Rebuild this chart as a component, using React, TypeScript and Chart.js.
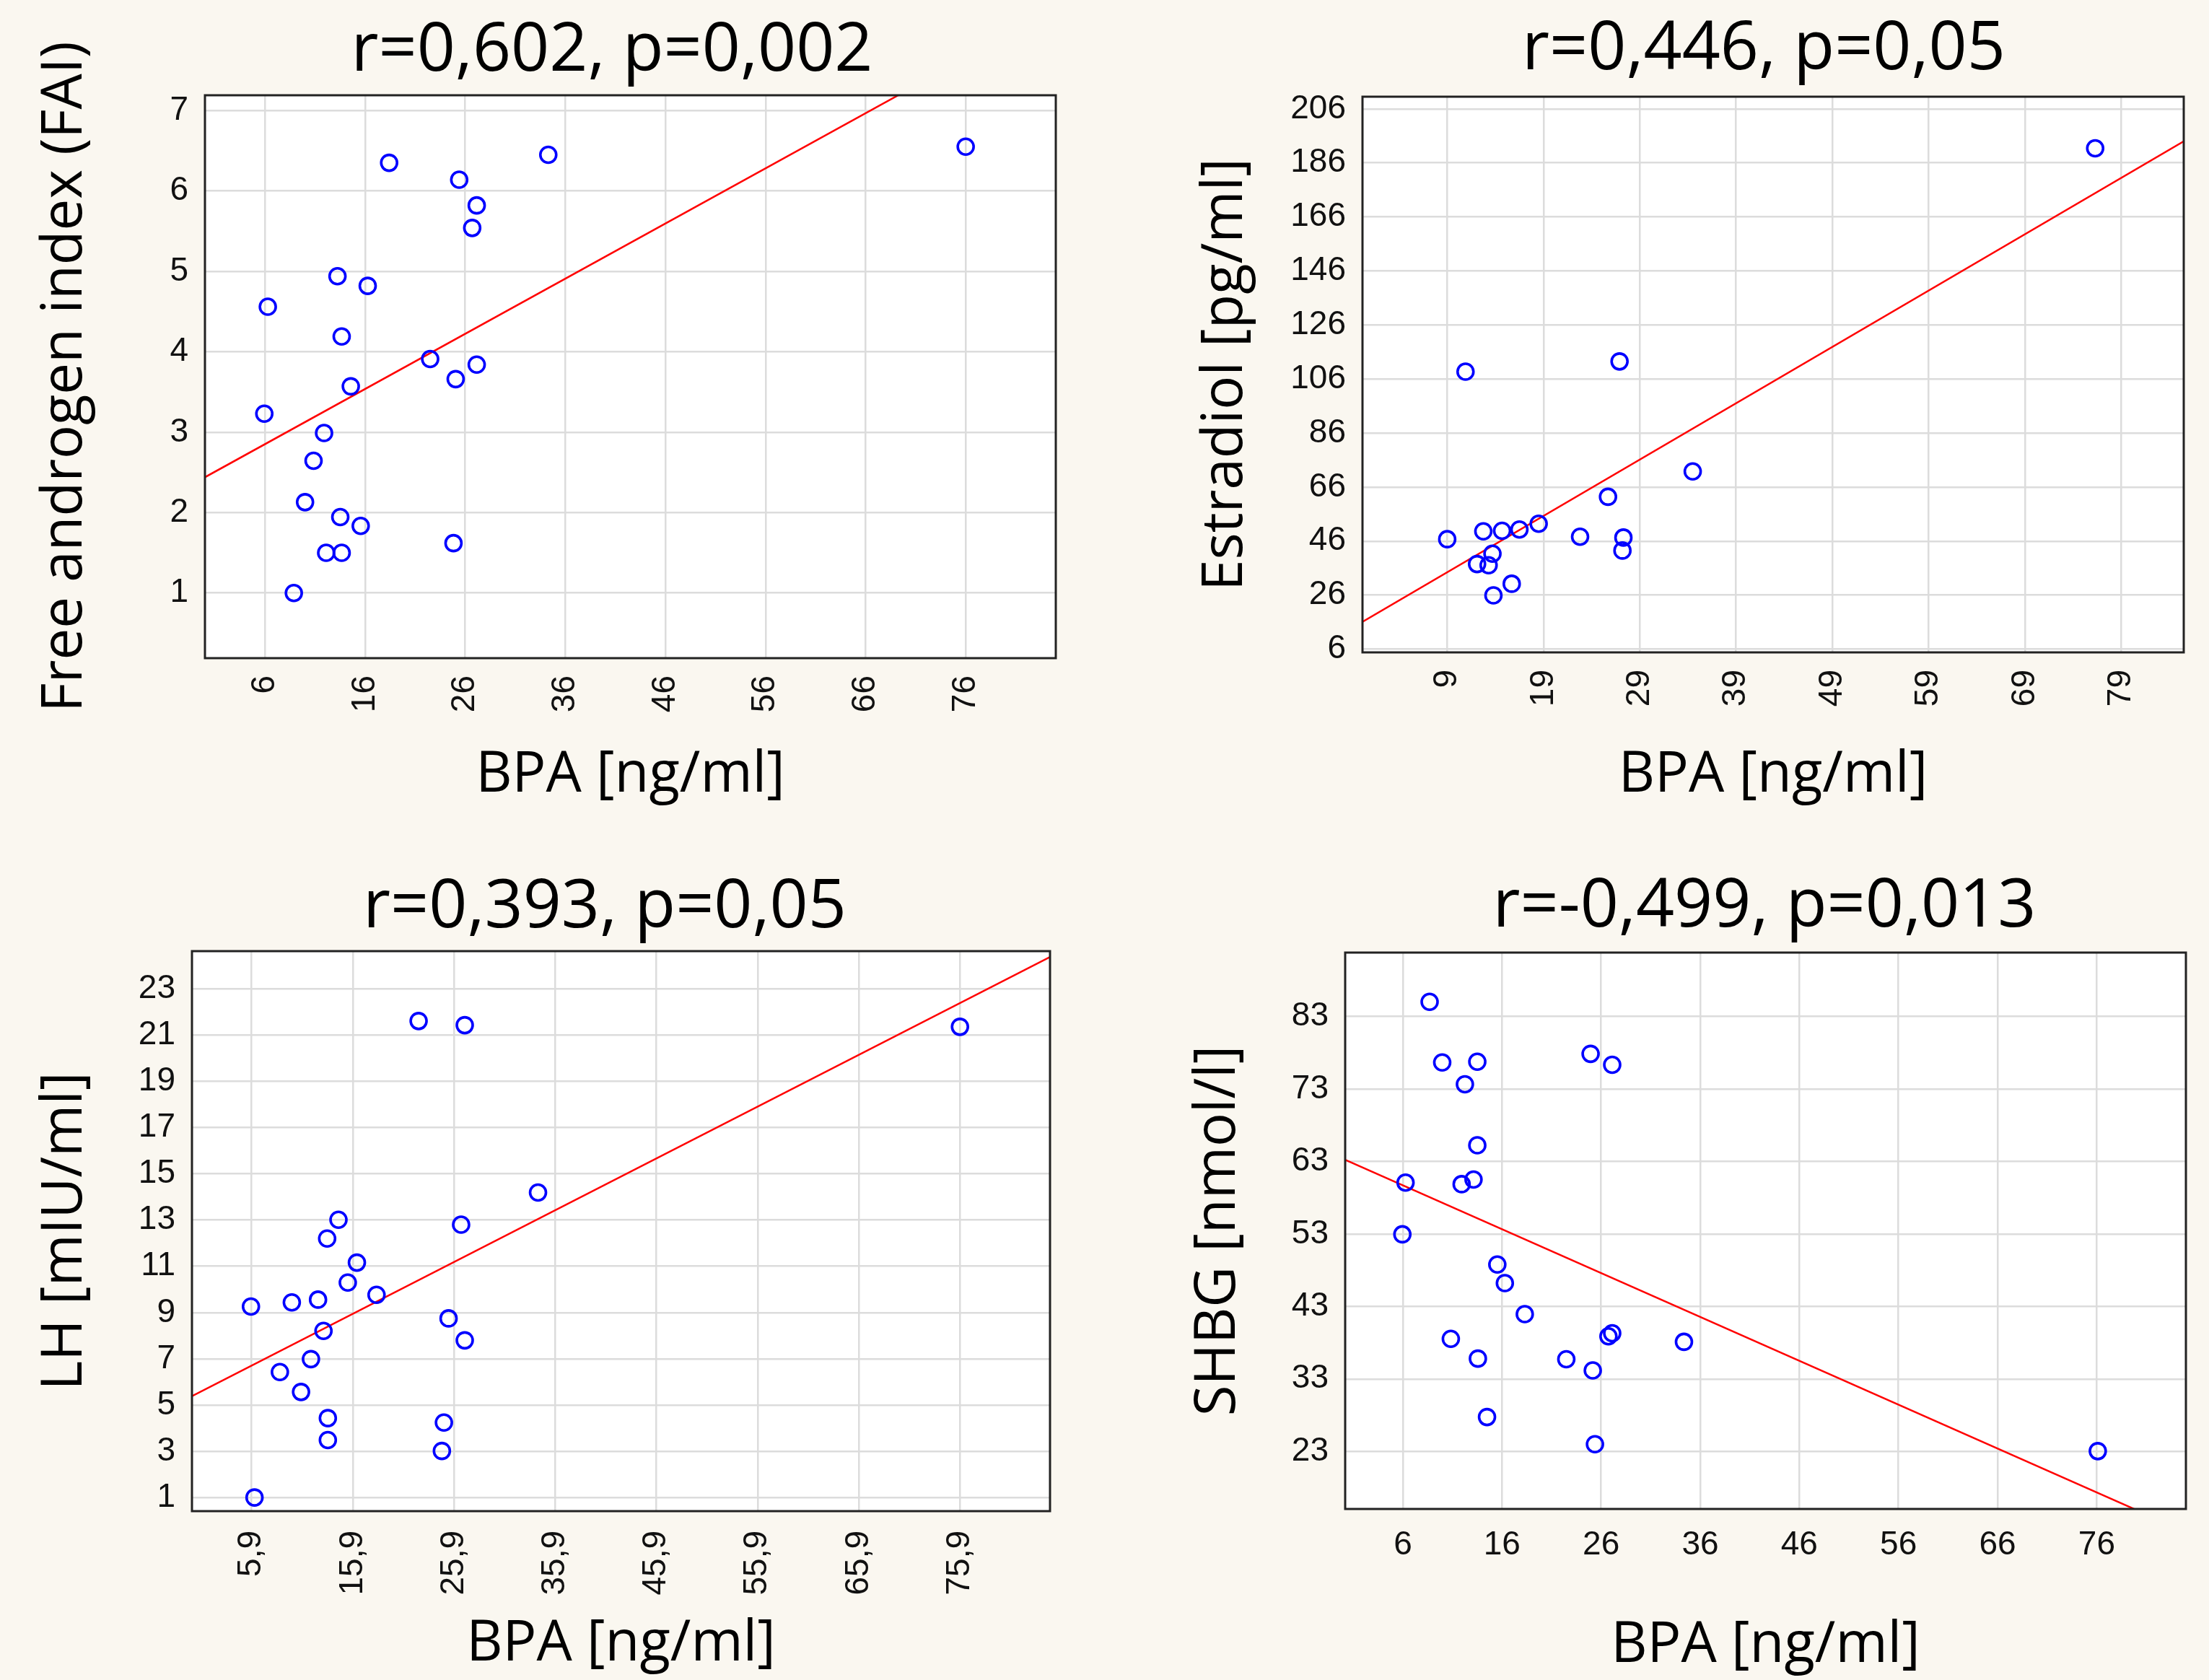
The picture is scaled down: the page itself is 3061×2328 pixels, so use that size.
import React, { useEffect, useRef } from 'react';
import { Chart, registerables } from 'chart.js';

Chart.register(...registerables);

// ---------------- data ----------------
// Panel 1: Free androgen index vs BPA
const bpa1 = [18.4, 34.3, 76.0, 25.4, 27.15, 26.7, 13.24, 16.26, 6.28, 13.66, 22.5, 27.15, 25.05, 14.57, 5.93, 11.9, 10.85, 10.0, 13.52, 15.56, 24.83, 12.11, 13.66, 8.88];
const fai = [6.35, 6.45, 6.55, 6.14, 5.82, 5.54, 4.94, 4.82, 4.56, 4.19, 3.91, 3.84, 3.66, 3.57, 3.23, 2.99, 2.645, 2.13, 1.945, 1.835, 1.62, 1.5, 1.5, 1.0];
const fitX1 = [0, 85];
const fitY1 = [2.44, 8.27];
const xTicks1 = [6, 16, 26, 36, 46, 56, 66, 76];
const yTicks1 = [1, 2, 3, 4, 5, 6, 7];

// Panel 2: Estradiol vs BPA
const bpa2 = [76.3, 10.9, 26.9, 34.5, 25.7, 18.5, 16.5, 14.7, 12.75, 9.0, 22.8, 27.3, 27.2, 13.7, 12.1, 13.3, 15.7, 13.8];
const estradiol = [191.4, 108.7, 112.5, 71.8, 62.4, 52.4, 50.3, 49.8, 49.6, 46.7, 47.6, 47.3, 42.5, 41.35, 37.5, 37.05, 30.2, 25.9];
const fitX2 = [0.2, 85.5];
const fitY2 = [16.1, 194.0];
const xTicks2 = [9, 19, 29, 39, 49, 59, 69, 79];
const yTicks2 = [6, 26, 46, 66, 86, 106, 126, 146, 166, 186, 206];

// Panel 3: LH vs BPA
const bpa3 = [22.4, 26.96, 75.9, 34.2, 14.48, 26.6, 13.36, 16.3, 15.4, 18.24, 12.46, 9.87, 5.83, 25.36, 13.0, 26.96, 11.76, 8.69, 10.78, 13.43, 24.9, 13.43, 24.7, 6.18];
const lh = [21.6, 21.42, 21.35, 14.19, 13.01, 12.8, 12.2, 11.16, 10.3, 9.77, 9.56, 9.44, 9.26, 8.75, 8.21, 7.8, 6.99, 6.43, 5.57, 4.44, 4.25, 3.49, 3.02, 1.01];
const fitX3 = [0, 84.8];
const fitY3 = [5.39, 24.37];
const xTicks3 = [5.9, 15.9, 25.9, 35.9, 45.9, 55.9, 65.9, 75.9];
const yTicks3 = [1, 3, 5, 7, 9, 11, 13, 15, 17, 19, 21, 23];

// Panel 4: SHBG vs BPA
const bpa4 = [8.7, 9.97, 13.51, 24.94, 27.12, 12.26, 13.51, 6.27, 11.93, 13.13, 5.95, 15.53, 16.29, 18.3, 10.84, 26.74, 27.12, 34.36, 13.57, 22.49, 25.16, 14.49, 25.38, 76.11];
const shbg = [85.0, 76.65, 76.74, 77.83, 76.32, 73.63, 65.23, 60.07, 59.86, 60.49, 52.94, 48.78, 46.22, 41.93, 38.53, 38.87, 39.29, 38.11, 35.8, 35.72, 34.17, 27.74, 24.0, 23.04];
const fitX4 = [0.18, 85];
const fitY4 = [63.21, 11.9];
const xTicks4 = [6, 16, 26, 36, 46, 56, 66, 76];
const yTicks4 = [23, 33, 43, 53, 63, 73, 83];

// ---------------- styling / layout ----------------
const BG = '#faf7f0';
const TITLE_FONT = 'Open Sans';
const TICK_FONT = 'Liberation Sans, Arial, sans-serif';

type Panel = {
  title: string;
  yLabel: string;
  xs: number[];
  ys: number[];
  fitX: number[];
  fitY: number[];
  xTicks: number[];
  yTicks: number[];
  xMin: number; xMax: number; yMin: number; yMax: number;
  rotateX: boolean;
  left: number; top: number; width: number; height: number;
  yAxisW: number; xAxisH: number; padW: number;
  titlePadTop: number; titlePadBottom: number;
  yTitlePad: number; xTitlePad: number; xTickPad: number;
};

const panels: Panel[] = [
  {
    title: 'r=0,602, p=0,002', yLabel: 'Free androgen index (FAI)',
    xs: bpa1, ys: fai, fitX: fitX1, fitY: fitY1, xTicks: xTicks1, yTicks: yTicks1,
    xMin: 0, xMax: 85, yMin: 0.19, yMax: 7.19, rotateX: true,
    left: 0, top: 0, width: 1696, height: 1160,
    yAxisW: 284, xAxisH: 248, padW: 233,
    titlePadTop: 16, titlePadBottom: 4.4, yTitlePad: 44, xTitlePad: 38, xTickPad: 24,
  },
  {
    title: 'r=0,446, p=0,05', yLabel: 'Estradiol [pg/ml]',
    xs: bpa2, ys: estradiol, fitX: fitX2, fitY: fitY2, xTicks: xTicks2, yTicks: yTicks2,
    xMin: 0.2, xMax: 85.5, yMin: 4.8, yMax: 210.5, rotateX: true,
    left: 1600, top: 0, width: 1688, height: 1160,
    yAxisW: 288, xAxisH: 256, padW: 262,
    titlePadTop: 14, titlePadBottom: 8.4, yTitlePad: 52, xTitlePad: 38, xTickPad: 24,
  },
  {
    title: 'r=0,393, p=0,05', yLabel: 'LH [mIU/ml]',
    xs: bpa3, ys: lh, fitX: fitX3, fitY: fitY3, xTicks: xTicks3, yTicks: yTicks3,
    xMin: 0, xMax: 84.8, yMin: 0.42, yMax: 24.62, rotateX: true,
    left: 0, top: 1160, width: 1676, height: 1168,
    yAxisW: 266, xAxisH: 234, padW: 221,
    titlePadTop: 42.7, titlePadBottom: 3.7, yTitlePad: 44, xTitlePad: 2, xTickPad: 27,
  },
  {
    title: 'r=-0,499, p=0,013', yLabel: 'SHBG [nmol/l]',
    xs: bpa4, ys: shbg, fitX: fitX4, fitY: fitY4, xTicks: xTicks4, yTicks: yTicks4,
    xMin: 0.18, xMax: 85, yMin: 15.06, yMax: 91.8, rotateX: false,
    left: 1600, top: 1160, width: 1690, height: 1168,
    yAxisW: 264, xAxisH: 237, padW: 261,
    titlePadTop: 41.2, titlePadBottom: 7.2, yTitlePad: 42, xTitlePad: 0, xTickPad: 23,
  },
];

const fmt = (v: number) => String(v).replace('.', ',');

const plotFrame = {
  id: 'plotFrame',
  beforeDraw(chart: any) {
    const { ctx, chartArea } = chart;
    const { left, top, right, bottom } = chartArea;
    ctx.save();
    ctx.fillStyle = '#ffffff';
    ctx.fillRect(left, top, right - left, bottom - top);
    ctx.restore();
  },
  afterDraw(chart: any) {
    const { ctx, chartArea } = chart;
    const { left, top, right, bottom } = chartArea;
    ctx.save();
    ctx.strokeStyle = '#222222';
    ctx.lineWidth = 3;
    ctx.strokeRect(left, top, right - left, bottom - top);
    ctx.restore();
  },
};

function ScatterPanel({ p }: { p: Panel }) {
  const ref = useRef<HTMLCanvasElement>(null);
  useEffect(() => {
    if (!ref.current) return;
    const points = p.xs.map((x, i) => ({ x, y: p.ys[i] }));
    const fit = p.fitX.map((x, i) => ({ x, y: p.fitY[i] }));
    const chart = new Chart(ref.current, {
      type: 'scatter',
      data: {
        datasets: [
          {
            type: 'scatter',
            data: points,
            pointStyle: 'circle',
            pointRadius: 11,
            pointBorderWidth: 3.6,
            borderColor: '#0000ff',
            backgroundColor: 'rgba(0,0,0,0)',
            pointHoverRadius: 11,
            order: 0,
          } as any,
          {
            type: 'line',
            data: fit,
            borderColor: '#ff0000',
            borderWidth: 2.5,
            pointRadius: 0,
            fill: false,
            showLine: true,
            order: 1,
          } as any,
        ],
      },
      options: {
        animation: false,
        responsive: false,
        devicePixelRatio: 1,
        layout: { padding: 0 },
        plugins: {
          legend: { display: false },
          tooltip: { enabled: false },
          title: {
            display: true,
            text: p.title,
            fullSize: true,
            color: '#000000',
            font: { family: TITLE_FONT, size: 93, weight: 'normal' },
            padding: { top: p.titlePadTop, bottom: p.titlePadBottom },
          },
        },
        scales: {
          x: {
            type: 'linear',
            position: 'bottom',
            min: p.xMin,
            max: p.xMax,
            afterBuildTicks: (s: any) => { s.ticks = p.xTicks.map((v) => ({ value: v })); },
            afterFit: (s: any) => { s.height = p.xAxisH; },
            grid: { color: '#dcdcdc', lineWidth: 2.5, drawTicks: false },
            border: { display: false },
            ticks: {
              autoSkip: false,
              minRotation: p.rotateX ? 90 : 0,
              maxRotation: p.rotateX ? 90 : 0,
              padding: p.xTickPad,
              color: '#111111',
              font: { family: TICK_FONT, size: 46 },
              callback: (v: any) => fmt(Number(v)),
            },
            title: {
              display: true,
              text: 'BPA [ng/ml]',
              color: '#000000',
              font: { family: TITLE_FONT, size: 78, weight: 'normal' },
              padding: { top: 0, bottom: p.xTitlePad },
            },
          },
          y: {
            type: 'linear',
            position: 'left',
            min: p.yMin,
            max: p.yMax,
            afterBuildTicks: (s: any) => { s.ticks = p.yTicks.map((v) => ({ value: v })); },
            afterFit: (s: any) => { s.width = p.yAxisW; },
            grid: { color: '#dcdcdc', lineWidth: 2.5, drawTicks: false },
            border: { display: false },
            ticks: {
              autoSkip: false,
              padding: 23,
              color: '#111111',
              font: { family: TICK_FONT, size: 46 },
              callback: (v: any) => fmt(Number(v)),
            },
            title: {
              display: true,
              text: p.yLabel,
              color: '#000000',
              font: { family: TITLE_FONT, size: 78, weight: 'normal' },
              padding: { top: p.yTitlePad, bottom: 0 },
            },
          },
          yPad: {
            type: 'linear',
            position: 'right',
            display: true,
            grid: { display: false, drawTicks: false },
            border: { display: false },
            ticks: { display: false },
            afterFit: (s: any) => { s.width = p.padW; },
          },
        },
      } as any,
      plugins: [plotFrame],
    });
    return () => chart.destroy();
  }, [p]);
  return (
    <canvas
      ref={ref}
      width={p.width}
      height={p.height}
      style={{ position: 'absolute', left: p.left, top: p.top, width: p.width, height: p.height }}
    />
  );
}

export default function App() {
  return (
    <div
      style={{
        position: 'fixed',
        left: 0,
        top: 0,
        width: 3061,
        height: 2328,
        overflow: 'hidden',
        background: BG,
      }}
    >
      {panels.map((p, i) => (
        <ScatterPanel key={i} p={p} />
      ))}
    </div>
  );
}
